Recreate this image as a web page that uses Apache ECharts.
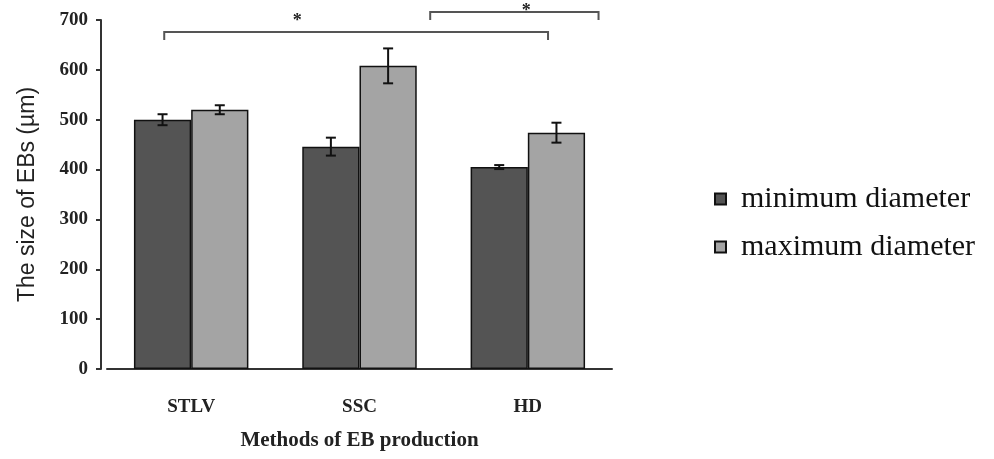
<!DOCTYPE html>
<html><head><meta charset="utf-8">
<script src="https://cdn.jsdelivr.net/npm/echarts@6/dist/echarts.min.js"></script>
<style>html,body{margin:0;padding:0;background:#fff}#c{width:994px;height:459px}</style>
</head><body><div id="c"></div>
<script>
const categories = ['STLV', 'SSC', 'HD'];
const minDiameter = [500, 446, 405];
const maxDiameter = [520, 608, 474];
const minError = [11, 18, 4];
const maxError = [9, 35, 20];
const seriesNames = ['minimum diameter', 'maximum diameter'];
const yTicks = [0, 700, 100];
// significance brackets: category-index span, bracket height (value), drop height (value), star position
const brackets = [
  { from: -0.16, to: 2.12, y: 676, low: 660, star: 0.63, starY: 706 },
  { from: 1.42, to: 2.42, y: 716, low: 700, star: 1.99, starY: 726 }
];

const SERIF = '"Liberation Serif", "Times New Roman", serif';
const SANS = '"Liberation Sans", Arial, sans-serif';
const chart = echarts.init(document.getElementById('c'));

function errorSeries(values, errs, side) {
  return {
    type: 'custom',
    silent: true,
    z: 5,
    data: values.map((v, i) => [i, v, errs[i]]),
    renderItem: function (params, api) {
      const idx = api.value(0), v = api.value(1), e = api.value(2);
      const band = api.size([1, 0])[0];
      const bw = band * (1 - 0.32) / 2;
      const c = api.coord([idx, v]);
      const x = c[0] + side * bw / 2;
      const top = api.coord([idx, v + e])[1];
      const bot = api.coord([idx, v - e])[1];
      const cap = 5;
      const st = { stroke: '#111', lineWidth: 2 };
      return { type: 'group', children: [
        { type: 'line', shape: { x1: x, y1: top, x2: x, y2: bot }, style: st },
        { type: 'line', shape: { x1: x - cap, y1: top, x2: x + cap, y2: top }, style: st },
        { type: 'line', shape: { x1: x - cap, y1: bot, x2: x + cap, y2: bot }, style: st }
      ]};
    }
  };
}

const bracketSeries = {
  type: 'custom',
  silent: true,
  z: 6,
  data: brackets.map(b => [b.from, b.to, b.y, b.low, b.star, b.starY]),
  renderItem: function (params, api) {
    const band = api.size([1, 0])[0];
    const c0 = api.coord([0, 0])[0];
    const x1 = c0 + api.value(0) * band;
    const x2 = c0 + api.value(1) * band;
    const y = api.coord([0, api.value(2)])[1];
    const yl = api.coord([0, api.value(3)])[1];
    const xs = c0 + api.value(4) * band;
    const ys = api.coord([0, api.value(5)])[1];
    const st = { stroke: '#555', lineWidth: 2, fill: null };
    return { type: 'group', children: [
      { type: 'polyline', shape: { points: [[x1, yl], [x1, y], [x2, y], [x2, yl]] }, style: st },
      { type: 'text', style: { text: '*', x: xs, y: ys + 4, fill: '#222', font: 'bold 18px ' + SERIF, align: 'center', verticalAlign: 'middle' } }
    ]};
  }
};

chart.setOption({
  animation: false,
  backgroundColor: '#fff',
  grid: { left: 107, right: 382, top: 20, bottom: 90, containLabel: false },
  legend: {
    orient: 'vertical', left: 709, top: 179, itemGap: 18,
    itemWidth: 11, itemHeight: 11, icon: 'rect',
    textStyle: { fontFamily: SERIF, fontSize: 30, color: '#111', padding: [0, 0, 0, 10] },
    data: seriesNames
  },
  xAxis: {
    type: 'category', data: categories,
    axisLine: { lineStyle: { color: '#333', width: 2 } },
    axisTick: { show: false },
    axisLabel: { margin: 29, fontFamily: SERIF, fontWeight: 'bold', fontSize: 19, color: '#222' },
    name: 'Methods of EB production', nameLocation: 'middle', nameGap: 61,
    nameTextStyle: { fontFamily: SERIF, fontWeight: 'bold', fontSize: 21, color: '#222' }
  },
  yAxis: {
    type: 'value', min: yTicks[0], max: yTicks[1], interval: yTicks[2], offset: 6,
    axisLine: { show: true, lineStyle: { color: '#333', width: 2 } },
    axisTick: { show: true, length: 5, lineStyle: { color: '#333', width: 2 } },
    splitLine: { show: false },
    axisLabel: { margin: 13, fontFamily: SERIF, fontWeight: 'bold', fontSize: 19, color: '#222' },
    name: 'The size of EBs (\u00b5m)', nameLocation: 'middle', nameGap: 62, nameRotate: 90,
    nameTextStyle: { fontFamily: SANS, fontSize: 23, color: '#222' }
  },
  series: [
    { name: seriesNames[0], type: 'bar', data: minDiameter, barGap: '0%', barCategoryGap: '32%',
      itemStyle: { color: '#545454', borderColor: '#111', borderWidth: 1.5 } },
    { name: seriesNames[1], type: 'bar', data: maxDiameter,
      itemStyle: { color: '#a4a4a4', borderColor: '#111', borderWidth: 1.5 } },
    errorSeries(minDiameter, minError, -1),
    errorSeries(maxDiameter, maxError, 1),
    bracketSeries
  ]
});
</script></body></html>
